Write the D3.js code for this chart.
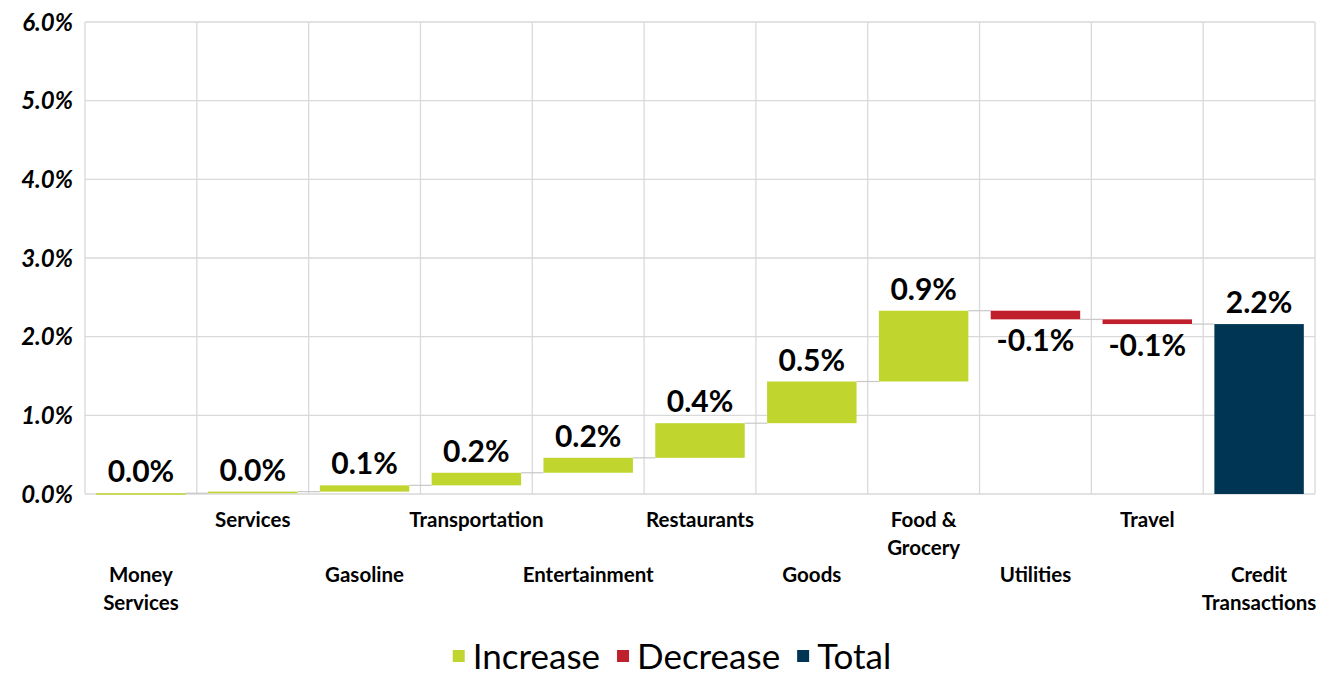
<!DOCTYPE html>
<html>
<head>
<meta charset="utf-8">
<script src="https://cdn.jsdelivr.net/npm/d3@7"></script>
<style>
  body { margin: 0; background: #fff; }
  svg { display: block; font-family: Lato, "Open Sans", sans-serif; }
</style>
</head>
<body>
<svg id="chart" width="1320" height="675"></svg>
<script>
// ---- data ----
const categories = ["Money Services", "Services", "Gasoline", "Transportation", "Entertainment",
  "Restaurants", "Goods", "Food & Grocery", "Utilities", "Travel", "Credit Transactions"];
const labelLines = [["Money", "Services"], ["Services"], ["Gasoline"], ["Transportation"], ["Entertainment"],
  ["Restaurants"], ["Goods"], ["Food &", "Grocery"], ["Utilities"], ["Travel"], ["Credit", "Transactions"]];
const changes = [0.01, 0.02, 0.08, 0.16, 0.19, 0.44, 0.53, 0.90, -0.11, -0.06, null]; // null = total
const yTicks = [0, 1, 2, 3, 4, 5, 6];
const legendItems = ["Increase", "Decrease", "Total"];
const colors = { Increase: "#C0D62F", Decrease: "#C0202B", Total: "#003654" };

// ---- build waterfall rows ----
let run = 0;
const rows = categories.map((c, i) => {
  const d = changes[i];
  if (d === null) return { cat: c, start: 0, end: run, value: run, type: "Total" };
  const start = run; run += d;
  return { cat: c, start, end: run, value: d, type: d >= 0 ? "Increase" : "Decrease" };
});

const svg = d3.select("#chart");
const pLeft = 85, pRight = 1315, pTop = 22, pBottom = 494;

const x = d3.scaleBand().domain(categories).range([pLeft, pRight]).paddingInner(0.2).paddingOuter(0.1);
const step = x.step();
const y = d3.scaleLinear().domain([0, 6]).range([pBottom, pTop]);

// gridlines
const grid = svg.append("g");
grid.selectAll("line.h").data(yTicks).join("line")
  .attr("x1", pLeft).attr("x2", pRight)
  .attr("y1", d => y(d)).attr("y2", d => y(d))
  .attr("stroke", "#d9d9d9").attr("stroke-width", 1.3);
grid.selectAll("line.v").data(d3.range(categories.length + 1)).join("line")
  .attr("x1", i => pLeft + i * step).attr("x2", i => pLeft + i * step)
  .attr("y1", pTop).attr("y2", pBottom)
  .attr("stroke", "#d9d9d9").attr("stroke-width", 1.3);

// y-axis labels
svg.append("g").selectAll("text").data(yTicks).join("text")
  .attr("x", 73).attr("y", d => y(d)).attr("dy", "0.36em")
  .attr("text-anchor", "end")
  .attr("font-size", 24).attr("font-weight", 700).attr("font-style", "italic")
  .attr("fill", "#000")
  .text(d => d.toFixed(1) + "%");

// connectors
svg.append("g").selectAll("line").data(rows.slice(0, -1)).join("line")
  .attr("x1", (d) => x(d.cat) + x.bandwidth())
  .attr("x2", (d, i) => x(categories[i + 1]))
  .attr("y1", d => y(d.end)).attr("y2", d => y(d.end))
  .attr("stroke", "#c8c8c8").attr("stroke-width", 1.2);

// bars
svg.append("g").selectAll("rect").data(rows).join("rect")
  .attr("x", d => x(d.cat))
  .attr("width", x.bandwidth())
  .attr("y", d => y(Math.max(d.start, d.end)))
  .attr("height", d => Math.max(1.5, Math.abs(y(d.start) - y(d.end))))
  .attr("fill", d => colors[d.type]);

// value labels
svg.append("g").selectAll("text").data(rows).join("text")
  .attr("x", d => x(d.cat) + x.bandwidth() / 2)
  .attr("y", d => d.type === "Decrease" ? y(Math.min(d.start, d.end)) + 32 : y(Math.max(d.start, d.end)) - 11)
  .attr("text-anchor", "middle")
  .attr("font-size", 30).attr("font-weight", 700).attr("fill", "#000")
  .text(d => d.value.toFixed(1) + "%");

// x category labels (staggered)
const xl = svg.append("g");
labelLines.forEach((lines, i) => {
  const baseY = i % 2 === 1 ? 527 : 582;
  const t = xl.append("text")
    .attr("x", x(categories[i]) + x.bandwidth() / 2)
    .attr("y", baseY)
    .attr("text-anchor", "middle")
    .attr("font-size", 20.5).attr("font-weight", 700).attr("fill", "#000");
  lines.forEach((ln, j) => {
    t.append("tspan").attr("x", x(categories[i]) + x.bandwidth() / 2).attr("y", baseY + j * 28).text(ln);
  });
});

// legend
const lg = svg.append("g").attr("font-size", 35).attr("fill", "#000");
const items = [];
legendItems.forEach(name => {
  const g = lg.append("g");
  g.append("rect").attr("x", 0).attr("y", -19).attr("width", 12).attr("height", 12).attr("fill", colors[name]);
  const tx = g.append("text").attr("x", 20).attr("y", 0).text(name);
  const w = 20 + tx.node().getComputedTextLength();
  items.push({ g, w });
});
const gap = 17;
const totalW = d3.sum(items, d => d.w) + gap * (items.length - 1);
let lx = 672 - totalW / 2;
items.forEach(it => { it.g.attr("transform", `translate(${lx},669)`); lx += it.w + gap; });
</script>
</body>
</html>
